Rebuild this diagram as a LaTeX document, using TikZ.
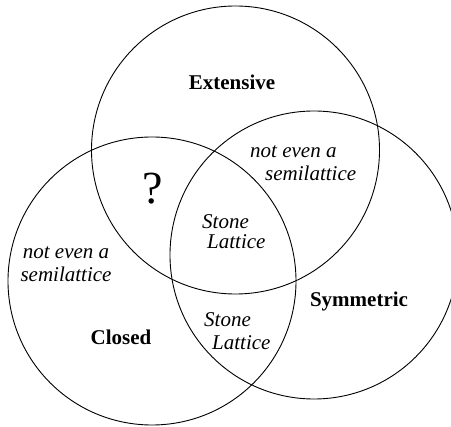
\documentclass[tikz,border=0pt]{standalone}
\usepackage{fontspec}
\setmainfont{Liberation Serif}
\usepackage{tikz}
\usetikzlibrary{positioning}
\tikzstyle{ring}=[draw, circle, line width=0.9pt, minimum size=288pt, inner sep=0pt]
\tikzstyle{prop}=[font=\fontsize{21}{23}\selectfont\bfseries, inner sep=0pt, anchor=base]
\tikzstyle{region}=[font=\fontsize{21}{22.5}\selectfont\itshape, inner sep=0pt, align=left, anchor=west]

\begin{document}
\begin{tikzpicture}[x=1pt,y=-1pt]
\useasboundingbox (0,0) rectangle (451,427);

% circles
\node[ring] (ext) at (235.5,150) {};
\node[ring] (sym) at (314,255) {};
\node[ring] (clo) at (152,281) {};

% names
\node[prop] (extname) at (232,90) {Extensive};
\node[prop] (symname) at (359,307) {Symmetric};
\node[prop] (cloname) at (121,345) {Closed};

% regions
\node[region] (extsym) at (250,163) {not even a\\\hspace*{15pt}semilattice};
\node[region, align=center, anchor=center] (cloonly) at (66,264) {not even a\\semilattice};
\node[font=\fontsize{46}{46}\selectfont, inner sep=0pt, anchor=base] (extclo) at (153,204) {?};
\node[region, font=\fontsize{21}{20}\selectfont\itshape] (all) at (202,232) {Stone\\\hspace*{5pt}Lattice};
\node[region] (symclo) at (204,331) {Stone\\\hspace*{8pt}Lattice};

\end{tikzpicture}
\end{document}
